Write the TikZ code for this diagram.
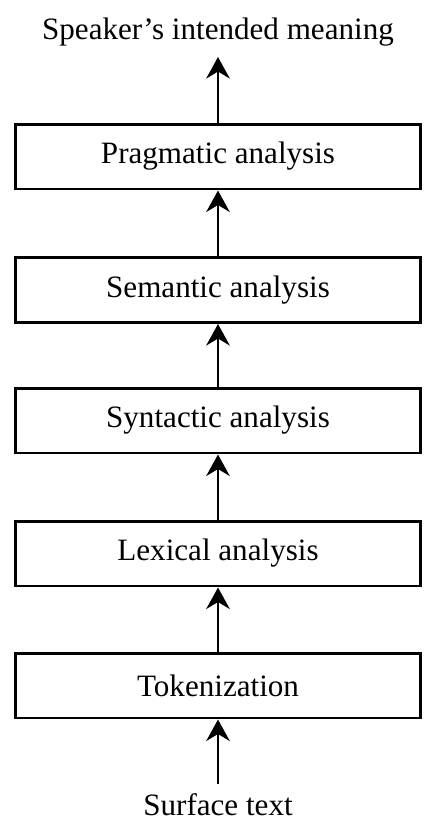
\documentclass[tikz,border=0pt]{standalone}
\usepackage{fontspec}
\setmainfont{Liberation Serif}
\usetikzlibrary{arrows.meta}
\begin{document}
\begin{tikzpicture}[x=0.02cm, y=-0.02cm,
    stage/.style={draw, rectangle, line width=1.7pt, minimum width=8.12cm, minimum height=1.3cm, inner sep=0pt},
    every node/.style={font=\fontsize{17.7}{21}\selectfont},
    >={Stealth[length=0.43cm, width=0.47cm, inset=0.14cm]}]

    \useasboundingbox (0,0) rectangle (437,825);

    \node (meaning) at (218,32) {Speaker’s intended meaning};

    \node[stage] (prag) at (218,156.5) {Pragmatic analysis};
    \node[stage] (sem) at (218,290) {Semantic analysis};
    \node[stage] (syn) at (218,420.5) {Syntactic analysis};
    \node[stage] (lex) at (218,553.5) {Lexical analysis};
    \node[stage] (tok) at (218,685.5) {Tokenization};

    \node (surface) at (218,805) {Surface text};
    \coordinate (top) at (218,57);
    \coordinate (bottom) at (218,784);

    \draw[->, line width=1.7pt] (bottom) -- (tok);
    \draw[->, line width=1.7pt] (tok) -- (lex);
    \draw[->, line width=1.7pt] (lex) -- (syn);
    \draw[->, line width=1.7pt] (syn) -- (sem);
    \draw[->, line width=1.7pt] (sem) -- (prag);
    \draw[->, line width=1.7pt] (prag) -- (top);

\end{tikzpicture}
\end{document}
